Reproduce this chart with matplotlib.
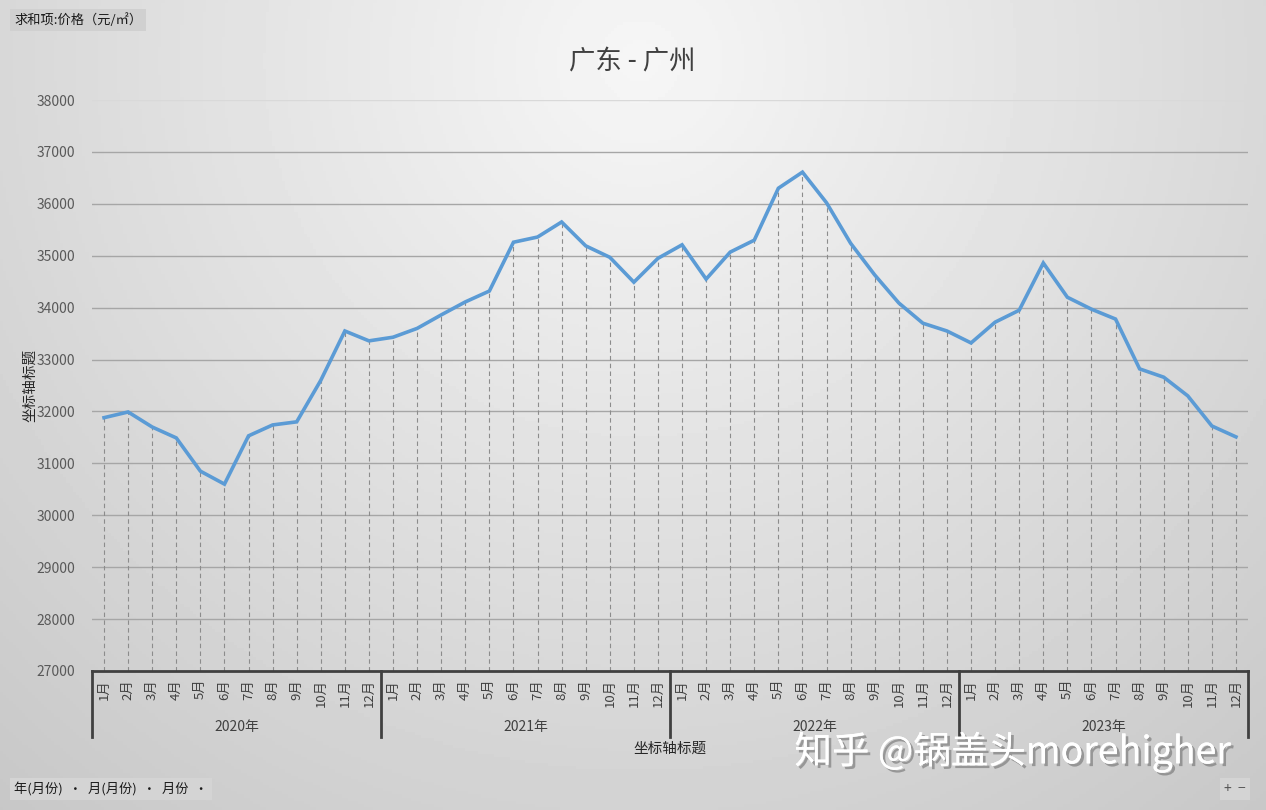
import numpy as np
import matplotlib.pyplot as plt
import matplotlib.patheffects as pe
from matplotlib.transforms import blended_transform_factory

plt.rcParams['font.family'] = ['Noto Sans CJK SC', 'DejaVu Sans']

# données (prix moyen, 元/㎡)
years = ['2020年', '2021年', '2022年', '2023年']
months = [f'{m}月' for m in range(1, 13)]
price_2020 = [31880, 31990, 31700, 31490, 30850, 30600, 31530, 31740, 31800, 32600, 33550, 33360]
price_2021 = [33430, 33600, 33860, 34110, 34320, 35260, 35360, 35650, 35190, 34970, 34490, 34950]
price_2022 = [35210, 34550, 35070, 35300, 36300, 36610, 36020, 35240, 34630, 34090, 33700, 33550]
price_2023 = [33320, 33720, 33950, 34860, 34200, 33970, 33780, 32820, 32660, 32300, 31720, 31510]
y_ticks = list(range(27000, 38001, 1000))

prices = price_2020 + price_2021 + price_2022 + price_2023
x = np.arange(len(prices))

W, H = 1266, 810
fig = plt.figure(figsize=(W / 100, H / 100), dpi=100)

# fond en dégradé radial gris
bg = fig.add_axes([0, 0, 1, 1], zorder=-10)
px, py = np.meshgrid(np.linspace(0, W, 400), np.linspace(0, H, 260))
d = np.sqrt((px - 640) ** 2 + (py - 60) ** 2) / 800
val = np.clip(246 - 38 * d, 195, 246) / 255.0
bg.imshow(val, cmap='gray', vmin=0, vmax=1, aspect='auto', extent=[0, 1, 0, 1], origin='upper')
bg.set_xlim(0, 1)
bg.set_ylim(0, 1)
bg.axis('off')

ax = fig.add_axes([92 / W, 1 - 671 / H, 1156 / W, 571 / H])
ax.patch.set_alpha(0)
ax.set_xlim(-0.5, len(prices) - 0.5)
ax.set_ylim(27000, 38000)
for s in ax.spines.values():
    s.set_visible(False)

# grille horizontale
for yv in y_ticks[1:]:
    ax.axhline(yv, color='#a6a6a6' if yv < 38000 else '#d9d9d9', lw=1.0, zorder=1)

# lignes de projection
ax.vlines(x, 27000, prices, colors='#8c8c8c', linestyles=(0, (4, 3)), lw=0.8, zorder=2)
ax.plot(x, prices, color='#5b9bd5', lw=2.6, solid_joinstyle='miter', zorder=3)

ax.set_yticks(y_ticks)
ax.set_yticklabels([str(v) for v in y_ticks], color='#595959', fontsize=10)
ax.tick_params(axis='y', length=0, pad=12)
ax.set_xticks([])

# axe x multi-niveaux
tr = blended_transform_factory(ax.transData, ax.transAxes)
ax.plot([-0.5, len(prices) - 0.5], [0, 0], color='#404040', lw=2, transform=tr, clip_on=False)
for i in range(len(years) + 1):
    xs = i * 12 - 0.5
    ax.plot([xs, xs], [0, -0.116], color='#404040', lw=2, transform=tr, clip_on=False)
for i, yr in enumerate(years):
    for j, m in enumerate(months):
        ax.text(i * 12 + j, -0.014, m, rotation=90, ha='center', va='top',
                fontsize=9.5, color='#404040', transform=tr)
    ax.text(i * 12 + 5.5, -0.098, yr, ha='center', va='center', fontsize=10,
            color='#404040', transform=tr)

fig.text(670 / W, 1 - 749 / H, '坐标轴标题', ha='center', va='center', fontsize=10.5, color='#262626')
fig.text(30 / W, 1 - 385 / H, '坐标轴标题', ha='center', va='center', rotation=90,
         fontsize=10.5, color='#262626')
fig.text(632 / W, 1 - 62 / H, '广东 - 广州', ha='center', va='center', fontsize=19,
         color='#404040', fontweight='medium')

# boutons du tableau croisé
fig.text(14 / W, 1 - 20 / H, '求和项:价格（元/㎡）', ha='left', va='center', fontsize=9.5,
         color='#1a1a1a', bbox=dict(boxstyle='square,pad=0.3', fc='#d0d0d0', ec='none'))
fig.text(14 / W, 1 - 789 / H, '年(月份)  ·  月(月份)  ·  月份  ·', ha='left', va='center',
         fontsize=9.5, color='#1a1a1a', bbox=dict(boxstyle='square,pad=0.3', fc='#d4d4d4', ec='none'))
fig.text(1235 / W, 1 - 789 / H, '+  −', ha='center', va='center', fontsize=10,
         color='#555555', bbox=dict(boxstyle='square,pad=0.3', fc='#d4d4d4', ec='none'))

# filigrane
fig.text(1013 / W, 1 - 752 / H, '知乎 @锅盖头morehigher', ha='center', va='center',
         fontsize=27, color='white',
         path_effects=[pe.withSimplePatchShadow(offset=(2, -2), shadow_rgbFace='#707070', alpha=0.6), pe.Normal()])

fig.savefig('out.png', dpi=100)
